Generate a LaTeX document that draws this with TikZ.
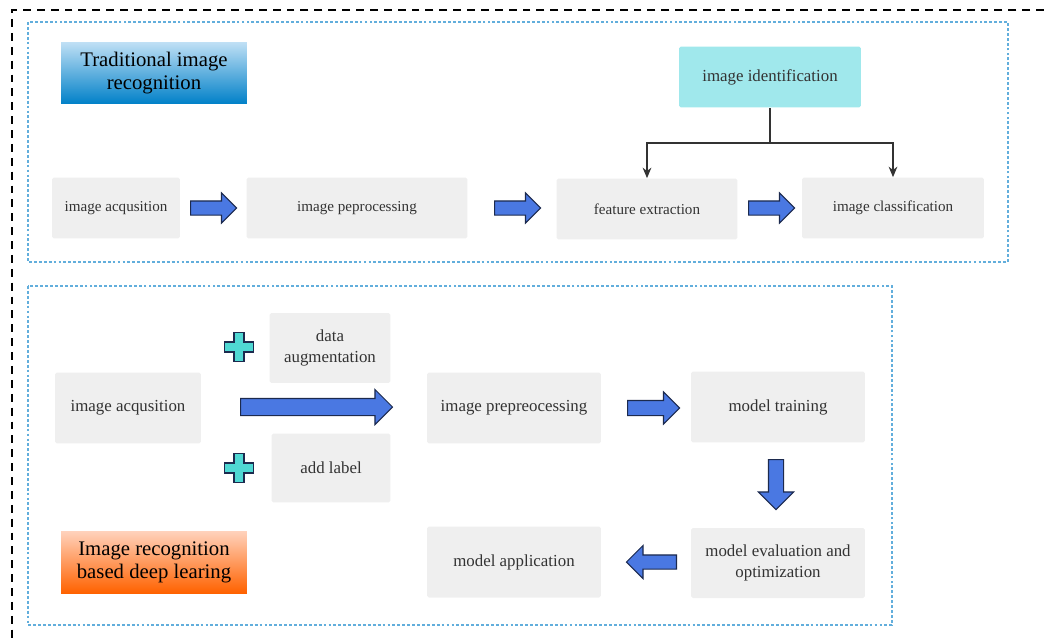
\documentclass[tikz,border=0pt]{standalone}
\usepackage{fontspec}
\setmainfont{Liberation Serif}
\usetikzlibrary{shapes.arrows, positioning, arrows.meta}

\definecolor{boxgray}{HTML}{EFEFEF}
\definecolor{panelblue}{HTML}{62AEDC}
\definecolor{identcyan}{HTML}{A0E8EC}
\definecolor{arrowblue}{HTML}{4A78E2}
\definecolor{arrowedge}{HTML}{1C2A4E}
\definecolor{plusfill}{HTML}{4FD8D3}

\begin{document}
\begin{tikzpicture}[
    x=0.02cm, y=-0.02cm,
    box/.style={fill=boxgray, rounded corners=1pt, align=center, inner sep=1pt, text=black!80},
    topbox/.style={box, font=\fontsize{8.6}{10}\selectfont, minimum height=1.22cm},
    lowbox/.style={box, font=\fontsize{9.6}{12}\selectfont, minimum height=1.42cm},
    title/.style={align=center, inner sep=0pt, minimum width=3.72cm, minimum height=1.24cm, font=\fontsize{11.8}{13}\selectfont},
    panel/.style={draw=panelblue, line width=0.6pt, dash pattern=on 1.6pt off 1.2pt},
    fat arrow/.style={single arrow, draw=arrowedge, fill=arrowblue, line width=0.6pt, inner sep=0.14cm, single arrow head extend=0.16cm, anchor=tail},
    plus/.style={draw=arrowedge, fill=plusfill, line width=0.7pt},
    link/.style={draw=black!80, line width=0.7pt}]

\useasboundingbox (0,0) rectangle (1044,642);

% Outer frame, only top and left edges visible
\draw[line width=0.8pt, dash pattern=on 4.5pt off 3.4pt] (1044,10) -- (12,10) -- (12,642);

% Panels
\draw[panel] (28,22) rectangle (1008,262);
\draw[panel] (28,286) rectangle (892,625);

% Traditional pipeline
\node[title, top color={rgb,255:red,192;green,224;blue,245}, bottom color={rgb,255:red,0;green,128;blue,200}] (trad) at (154,73) {Traditional image\\recognition};
\node[box, fill=identcyan, font=\fontsize{9.6}{11}\selectfont, minimum width=3.64cm, minimum height=1.22cm] (ident) at (770,77) {image identification};

\node[topbox, minimum width=2.56cm] (acq1) at (116,208) {image acqusition};
\node[topbox, minimum width=4.42cm] (pre1) at (357,208) {image peprocessing};
\node[topbox, minimum width=3.62cm] (feat) at (647,209) {feature extraction};
\node[topbox, minimum width=3.64cm] (cls) at (893,208) {image classification};

\node[fat arrow, minimum height=0.92cm, inner sep=0.13cm, single arrow head extend=0.16cm] (a1) at (190,208) {};
\node[fat arrow, minimum height=0.92cm, inner sep=0.13cm, single arrow head extend=0.16cm] (a2) at (494,208) {};
\node[fat arrow, minimum height=0.92cm, inner sep=0.13cm, single arrow head extend=0.16cm] (a3) at (748,208) {};

\coordinate (split) at (770,143);
\draw[link] (ident.south) -- (split);
\draw[link, -{Stealth[length=6pt, width=5pt]}] (split) -| (feat.north);
\draw[link, -{Stealth[length=6pt, width=5pt]}] (split) -| (cls.north);

% Deep learning pipeline
\node[title, top color={rgb,255:red,255;green,210;blue,188}, bottom color={rgb,255:red,255;green,98;blue,0}] (deep) at (154,562) {Image recognition\\based deep learing};

\node[lowbox, minimum width=2.92cm] (acq2) at (128,408) {image acqusition};
\node[lowbox, minimum width=2.42cm, minimum height=1.4cm] (aug) at (330,348) {data\\augmentation};
\node[lowbox, minimum width=2.38cm, minimum height=1.38cm] (lab) at (331,468) {add label};
\node[lowbox, minimum width=3.48cm] (pre2) at (514,408) {image prepreocessing};
\node[lowbox, minimum width=3.48cm] (train) at (778,407) {model training};
\node[lowbox, minimum width=3.48cm, minimum height=1.4cm] (eval) at (778,563) {model evaluation and\\optimization};
\node[lowbox, minimum width=3.48cm] (app) at (514,562) {model application};

\node[fat arrow, minimum height=3.04cm, inner sep=0.16cm, single arrow head extend=0.18cm] (b1) at (240,407) {};
\node[fat arrow, minimum height=1.04cm, inner sep=0.14cm, single arrow head extend=0.17cm] (b2) at (627,408) {};
\node[fat arrow, minimum height=1.0cm, inner sep=0.14cm, single arrow head extend=0.2cm, shape border rotate=270] (b3) at (776,459) {};
\node[fat arrow, minimum height=1.0cm, inner sep=0.13cm, single arrow head extend=0.19cm, shape border rotate=180] (b4) at (677,562) {};

% Plus signs
\coordinate (p1) at (239,347);
\coordinate (p2) at (239,468);
\foreach \p in {p1, p2}
    \draw[plus] (\p) ++(-5,-14.5) -- ++(10,0) -- ++(0,9.5) -- ++(9.5,0) -- ++(0,10)
        -- ++(-9.5,0) -- ++(0,9.5) -- ++(-10,0) -- ++(0,-9.5) -- ++(-9.5,0)
        -- ++(0,-10) -- ++(9.5,0) -- cycle;

\end{tikzpicture}
\end{document}
